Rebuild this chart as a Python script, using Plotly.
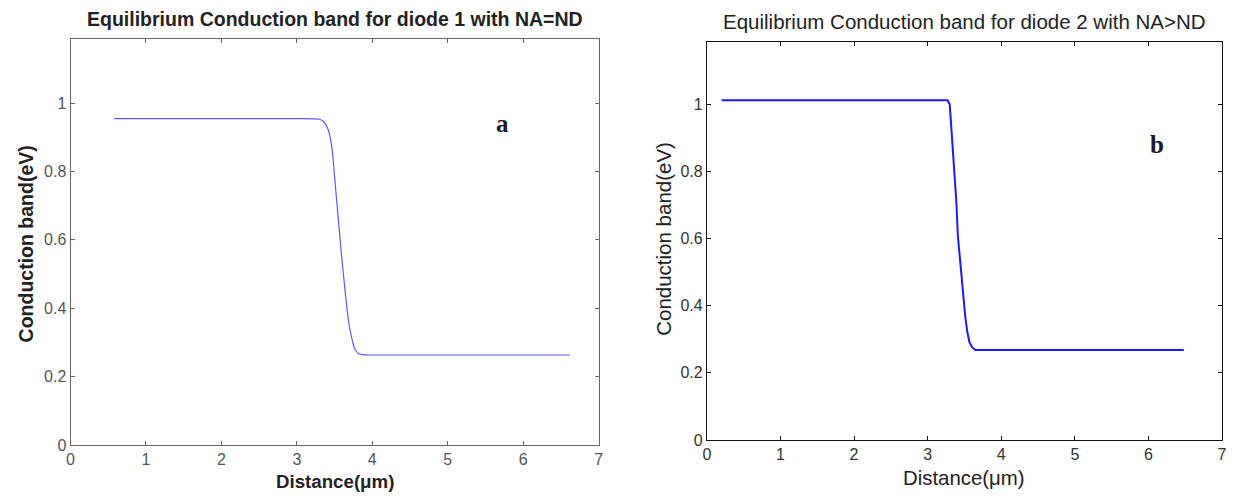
import plotly.graph_objects as go

# Diode 1 (NA=ND) conduction band
x1 = [0.58, 3.0, 3.30, 3.36, 3.42, 3.47, 3.51, 3.55, 3.59, 3.64, 3.68, 3.73, 3.77, 3.82, 3.88, 3.95, 6.62]
y1 = [0.955, 0.955, 0.953, 0.945, 0.92, 0.86, 0.76, 0.66, 0.56, 0.45, 0.37, 0.31, 0.28, 0.267, 0.264, 0.263, 0.263]

# Diode 2 (NA>ND) conduction band
x2 = [0.2, 3.0, 3.27, 3.30, 3.32, 3.34, 3.36, 3.39, 3.41, 3.44, 3.47, 3.49, 3.51, 3.54, 3.57, 3.61, 3.65, 6.48]
y2 = [1.012, 1.012, 1.012, 1.0, 0.94, 0.88, 0.82, 0.71, 0.61, 0.54, 0.46, 0.40, 0.37, 0.32, 0.29, 0.275, 0.268, 0.268]

xticks = [0, 1, 2, 3, 4, 5, 6, 7]
yticks = [0, 0.2, 0.4, 0.6, 0.8, 1.0]
yticklabels = ["0", "0.2", "0.4", "0.6", "0.8", "1"]

title1 = "Equilibrium Conduction band for diode 1 with NA=ND"
title2 = "Equilibrium Conduction band for diode 2 with NA>ND"
ylabel = "Conduction band(eV)"
xlabel = "Distance(\u03bcm)"

W, H = 1235, 503
# pixel boxes: left, right, top, bottom, y-value at top
L1 = (67, 599, 40, 453, 1.187)
L2 = (708, 1227, 43, 448, 1.185)

def dom(b):
    l, r, t, btm, _ = b
    return [l / W, r / W], [(H - btm) / H, (H - t) / H]

fig = go.Figure()
fig.add_trace(go.Scatter(x=x1, y=y1, mode="lines", line=dict(color="#5a5aff", width=1.2, shape="spline", smoothing=0.6),
                         xaxis="x", yaxis="y", showlegend=False, hoverinfo="skip"))
fig.add_trace(go.Scatter(x=x2, y=y2, mode="lines", line=dict(color="#1a1aff", width=2),
                         xaxis="x2", yaxis="y2", showlegend=False, hoverinfo="skip"))

font = "Liberation Sans, Arial, sans-serif"
xd1, yd1 = dom(L1)
xd2, yd2 = dom(L2)

def ax(domain, anchor, rng, tv, tt, col, tcol):
    return dict(domain=domain, anchor=anchor, range=rng, tickvals=tv, ticktext=tt,
                showline=True, linecolor=col, linewidth=1, mirror="ticks", ticks="inside",
                ticklen=4, tickcolor=col, showgrid=False, zeroline=False, ticklabeloverflow="allow",
                tickfont=dict(family=font, size=16, color=tcol), fixedrange=True)

fig.update_layout(
    width=W, height=H, margin=dict(l=0, r=0, t=0, b=0),
    paper_bgcolor="white", plot_bgcolor="white",
    xaxis=ax(xd1, "y", [0, 7], xticks, [str(t) for t in xticks], "#666666", "#555555"),
    yaxis=ax(yd1, "x", [0, L1[4]], yticks, yticklabels, "#666666", "#555555"),
    xaxis2=ax(xd2, "y2", [0, 7], xticks, [str(t) for t in xticks], "#111111", "#333333"),
    yaxis2=ax(yd2, "x2", [0, L2[4]], yticks, yticklabels, "#111111", "#333333"),
)

def pann(text, x, y, size, bold=False, angle=0, color="#222", fam=font):
    fig.add_annotation(text=("<b>%s</b>" % text) if bold else text, x=x / W, y=1 - y / H,
                       xref="paper", yref="paper", showarrow=False, textangle=angle,
                       font=dict(family=fam, size=size, color=color), xanchor="center", yanchor="middle")

pann(title1, (L1[0] + L1[1]) / 2, 19, 19.5, bold=True, color="#222")
pann(title2, (L2[0] + L2[1]) / 2, 22, 20.5, color="#222")
pann(ylabel, 22, 248, 19.5, bold=True, angle=-90, color="#222")
pann(ylabel, 664, 243, 20.5, angle=-90, color="#222")
pann(xlabel, (L1[0] + L1[1]) / 2, 490, 18.7, bold=True, color="#222")
pann(xlabel, (L2[0] + L2[1]) / 2, 487, 20.4, color="#222")

fig.add_annotation(text="<b>a</b>", x=5.72, y=0.94, xref="x", yref="y", showarrow=False,
                   font=dict(family="Liberation Serif, Times New Roman, serif", size=25, color="#1a1a2a"))
fig.add_annotation(text="<b>b</b>", x=6.12, y=0.88, xref="x2", yref="y2", showarrow=False,
                   font=dict(family="Liberation Serif, Times New Roman, serif", size=25, color="#1a1a2a"))

fig.write_html("out.html", config={"displayModeBar": False, "staticPlot": True},
               post_script="document.body.style.margin='0px';document.body.style.overflow='hidden';")
